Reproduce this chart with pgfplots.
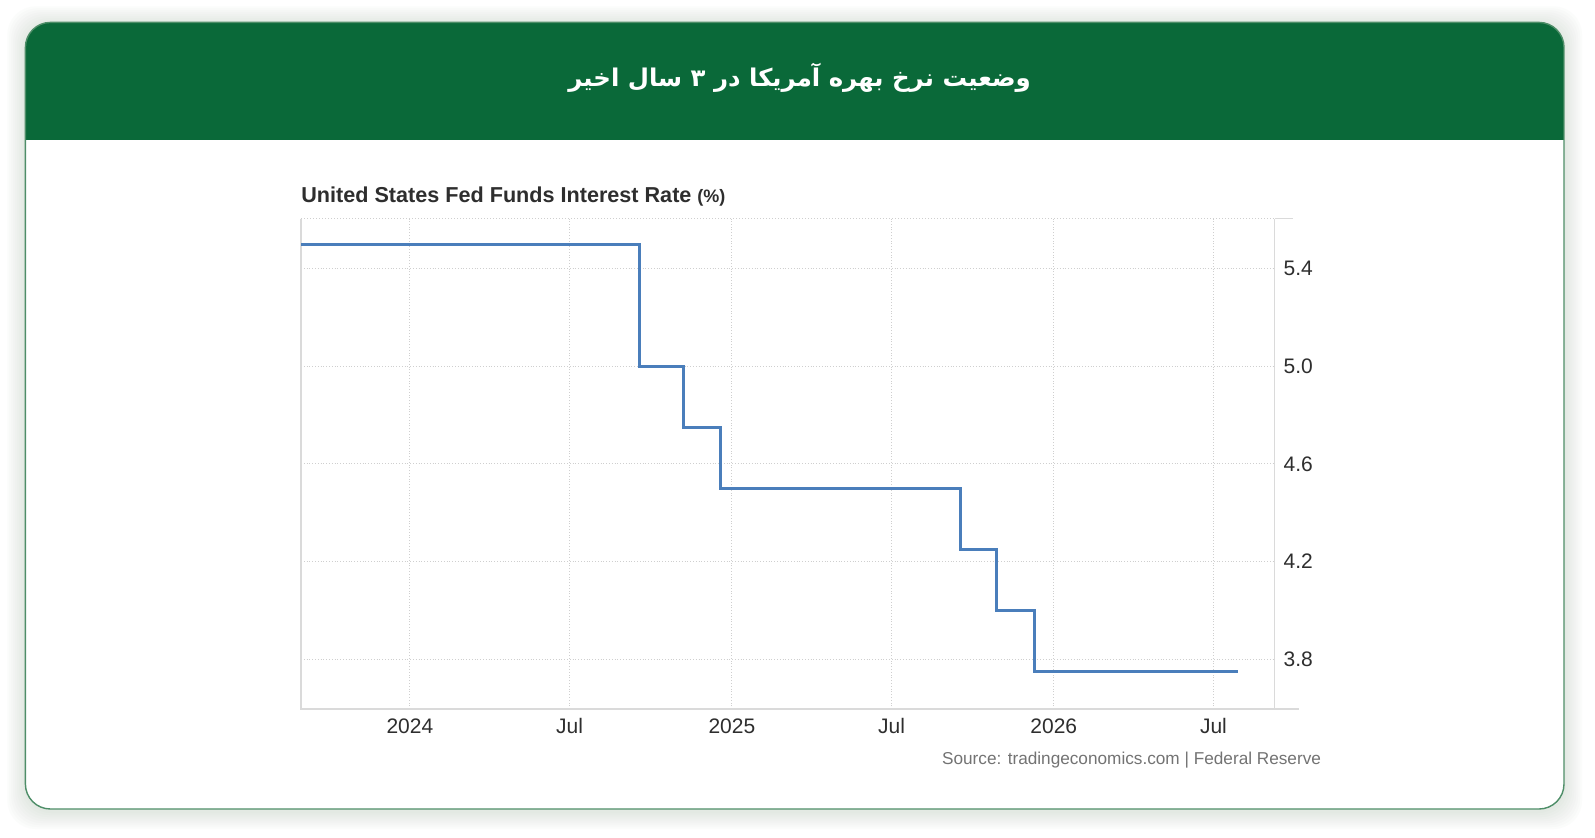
\documentclass[border=0pt]{standalone}
\usepackage{fontspec}
\setmainfont{Liberation Sans}
\newfontfamily\arabicfont[Script=Arabic]{DejaVu Sans}
\TeXXeTstate=1
\usepackage{pgfplots}
\pgfplotsset{compat=1.18}
\definecolor{hdr}{HTML}{0A6939}
\definecolor{cardborder}{HTML}{4E8E68}
\definecolor{ratecol}{HTML}{4A7EBB}
\definecolor{axgray}{HTML}{DADADA}
\definecolor{gridgray}{HTML}{CFCFCF}
\pgfplotstableread{
x y
-4.06 5.50
8.57 5.00
10.20 4.75
11.56 4.50
20.51 4.25
21.88 4.00
23.28 3.75
30.86 3.75
}\ratetable
\begin{document}
\begin{tikzpicture}
% page background
\fill[white] (0pt,0pt) rectangle (797.5pt,418.5pt);
% soft shadow
\foreach \i in {1,...,9}{
  \fill[green!25!black!35, opacity=0.035, rounded corners=14pt]
    (12.7pt-\i pt,14pt-\i pt-1pt) rectangle (782pt+\i pt,407.3pt+\i pt-1pt);
}
% card
\fill[white, rounded corners=12.5pt] (12.7pt,14pt) rectangle (782pt,407.3pt);
\begin{scope}
  \clip[rounded corners=12.5pt] (12.7pt,14pt) rectangle (782pt,407.3pt);
  \fill[hdr] (12.7pt,348.3pt) rectangle (782pt,407.3pt);
\end{scope}
\draw[cardborder, line width=0.7pt, rounded corners=12.5pt] (12.7pt,14pt) rectangle (782pt,407.3pt);
% header title
\node[text=white, font=\arabicfont\bfseries\fontsize{12.2}{15}\selectfont] at (399.8pt,379.5pt)
  {\beginR وضعیت نرخ بهره آمریکا در ۳ سال اخیر\endR};
% chart title
\node[anchor=west, inner sep=0pt, text=black!82, font=\bfseries\fontsize{10.8}{12}\selectfont] at (150.5pt,320.3pt)
  {United States Fed Funds Interest Rate {\fontsize{9}{10}\selectfont(\%)}};
% source
\node[anchor=east, inner sep=0pt, text=black!55, font=\fontsize{8.6}{10}\selectfont] at (660.7pt,38.5pt)
  {Source: tradingeconomics.com | Federal Reserve};
\begin{axis}[
  at={(150.5pt,64pt)}, anchor=south west,
  scale only axis, width=486.8pt, height=245.1pt,
  xmin=-4.06, xmax=32.23, ymin=3.596, ymax=5.604,
  xtick={0,5.95,12,17.95,24,29.95},
  xticklabels={2024,Jul,2025,Jul,2026,Jul},
  ytick={3.8,4.2,4.6,5.0,5.4},
  yticklabels={3.8,4.2,4.6,5.0,5.4},
  yticklabel pos=right,
  grid=major,
  major grid style={densely dotted, gridgray, line width=0.5pt},
  axis line style={draw=none},
  tick style={draw=none},
  xticklabel style={font=\fontsize{10.5}{12}\selectfont, text=black!82, yshift=-1.3pt},
  yticklabel style={font=\fontsize{10.5}{12}\selectfont, text=black!82, xshift=1pt},
  clip=false,
]
\draw[axgray, line width=0.8pt] (rel axis cs:0,1) -- (rel axis cs:0,0) -- (rel axis cs:1,0) -- ++(12pt,0pt);
\draw[axgray, line width=0.8pt] (rel axis cs:1,0) -- (rel axis cs:1,1);
\draw[densely dotted, gridgray, line width=0.5pt] (rel axis cs:0,1) -- (rel axis cs:1,1);
\draw[axgray, line width=0.6pt] (rel axis cs:1,1) -- ++(9pt,0pt);
\addplot[const plot, ratecol, line width=1.5pt] table[x=x, y=y] {\ratetable};
\end{axis}
\end{tikzpicture}
\end{document}
